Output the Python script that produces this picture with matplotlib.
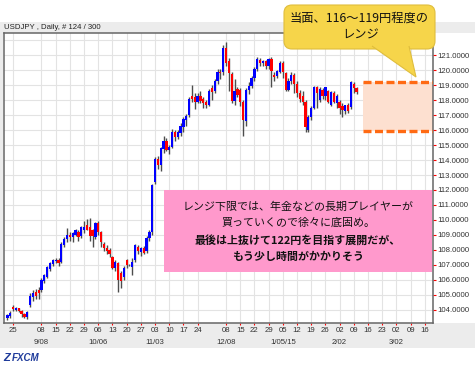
# -*- coding: utf-8 -*-
import numpy as np, pandas as pd
import matplotlib; matplotlib.use('Agg')
import matplotlib.pyplot as plt
import matplotlib.transforms as mtrans
from matplotlib.patches import Rectangle, FancyBboxPatch, Polygon

plt.rcParams.update({'font.family': ['Liberation Sans', 'Noto Sans CJK JP'], 'font.size': 5.6})
JP = ['Noto Sans CJK JP', 'DejaVu Sans']
W, H = 475, 367
BLUE = '#0000ff'; RED = '#ff0000'; WICK = '#4d4d4d'; GRID = '#e3e3e3'

# ---- USDJPY daily candles, first bar 2014-08-21 ----
first_day = '2014-08-21'
opens = [103.45, 103.6, 104.2, 104.0, 104.1, 103.9, 103.75, 103.55, 104.3, 104.85,
         105.2, 105.3, 105.3, 105.95, 106.2, 106.75, 107.05, 107.25, 107.35, 107.2,
         108.35, 108.7, 109.0, 108.85, 109.0, 109.2, 108.9, 109.3, 109.65, 109.55,
         109.3, 108.85, 109.8, 109.2, 108.4, 108.1, 108.0, 107.55, 106.8, 107.1,
         106.45, 106.2, 107.3, 107.0, 106.85, 107.3, 108.2, 107.85, 108.1, 107.9,
         108.8, 109.2, 112.5, 114.1, 113.65, 114.75, 115.3, 114.7, 114.9, 115.85,
         115.55, 115.8, 116.2, 116.7, 117.0, 118.3, 118.2, 117.9, 118.3, 118.1,
         117.9, 117.7, 118.8, 118.6, 119.3, 119.9, 119.85, 121.5, 120.6, 119.75,
         117.95, 118.75, 118.65, 117.9, 116.6, 118.65, 118.95, 119.45, 120.1, 120.7,
         120.45, 120.6, 120.25, 120.75, 119.7, 119.6, 119.9, 120.5, 119.8, 118.7,
         119.3, 119.7, 119.1, 118.5, 118.3, 117.9, 116.0, 116.9, 117.5, 118.9,
         118.0, 118.7, 118.3, 118.6, 117.7, 118.45, 117.8, 117.9, 117.6, 117.3,
         117.65, 117.55, 119.1, 118.8]
highs = [103.75, 103.9, 104.3, 104.2, 104.15, 104.0, 103.8, 103.9, 105.1, 105.3,
         105.4, 105.5, 106.1, 106.4, 106.9, 107.2, 107.4, 107.45, 107.45, 108.5,
         108.85, 109.45, 109.2, 109.2, 109.4, 109.3, 109.6, 109.9, 110.05, 110.1,
         109.4, 109.85, 109.9, 109.25, 108.5, 108.3, 108.1, 107.6, 107.3, 107.2,
         106.6, 106.9, 107.4, 107.05, 107.45, 108.4, 108.35, 108.2, 108.25, 108.9,
         109.3, 112.4, 114.2, 114.3, 114.9, 115.6, 115.5, 115.0, 116.1, 116.0,
         116.0, 116.45, 116.9, 117.1, 118.2, 119.0, 118.5, 118.45, 118.6, 118.2,
         118.0, 118.75, 119.0, 119.4, 120.05, 120.1, 121.7, 121.85, 120.8, 119.9,
         119.4, 118.9, 118.8, 118.0, 118.8, 119.2, 119.6, 120.2, 120.85, 120.8,
         120.7, 120.7, 120.8, 120.85, 119.9, 120.0, 120.6, 120.6, 119.9, 119.5,
         119.85, 119.8, 119.3, 118.7, 118.6, 118.0, 117.0, 117.6, 118.95, 118.95,
         118.85, 118.8, 118.9, 118.7, 118.6, 118.6, 118.4, 118.0, 117.8, 117.7,
         117.8, 119.25, 119.2, 118.85]
lows = [103.35, 103.45, 103.95, 103.9, 103.85, 103.55, 103.45, 103.4, 104.2, 104.6,
        104.7, 104.7, 105.2, 105.8, 106.1, 106.6, 106.95, 107.1, 106.9, 107.1,
        108.2, 108.5, 108.6, 108.5, 108.9, 108.6, 108.8, 109.1, 109.3, 108.6,
        108.2, 108.7, 109.0, 108.2, 107.9, 107.7, 107.5, 106.75, 106.6, 105.2,
        105.45, 106.0, 106.8, 106.9, 106.35, 107.2, 107.7, 107.6, 107.7, 107.8,
        108.6, 109.0, 112.4, 113.4, 113.3, 114.5, 114.6, 114.4, 114.8, 115.3,
        115.4, 115.6, 115.9, 116.3, 116.9, 117.9, 117.4, 117.8, 117.8, 117.5,
        117.5, 117.6, 118.0, 118.5, 119.1, 119.4, 119.7, 120.3, 118.6, 117.8,
        117.7, 118.2, 117.6, 115.6, 116.3, 118.4, 118.8, 119.3, 119.95, 120.3,
        120.3, 120.1, 120.1, 118.9, 119.3, 119.5, 119.8, 119.5, 118.6, 118.6,
        119.1, 118.5, 118.2, 117.9, 117.7, 115.85, 115.9, 116.7, 117.4, 117.45,
        117.9, 118.1, 118.0, 117.8, 117.6, 117.8, 117.5, 117.1, 116.9, 117.1,
        117.15, 117.4, 118.5, 118.4]
closes = [103.65, 103.8, 104.05, 104.1, 103.9, 103.75, 103.55, 103.85, 104.95, 105.15,
          104.95, 105.1, 106.0, 106.3, 106.85, 107.1, 107.3, 107.35, 107.15, 108.4,
          108.7, 109.0, 108.85, 109.1, 109.3, 108.85, 109.5, 109.55, 109.35, 108.9,
          108.9, 109.8, 109.2, 108.55, 108.1, 107.95, 107.7, 106.8, 107.2, 106.0,
          105.95, 106.8, 107.0, 106.97, 107.2, 108.3, 107.9, 108.1, 107.8, 108.8,
          109.2, 112.3, 114.1, 113.65, 114.8, 115.3, 114.7, 114.9, 115.9, 115.55,
          115.85, 116.3, 116.75, 116.95, 118.1, 118.1, 117.9, 118.3, 117.95, 117.8,
          117.65, 118.6, 118.55, 119.3, 119.9, 119.8, 121.45, 120.5, 119.8, 117.95,
          118.6, 118.35, 117.9, 116.7, 118.65, 118.95, 119.45, 120.05, 120.75, 120.45,
          120.6, 120.25, 120.75, 119.95, 119.55, 119.95, 120.5, 119.9, 118.7, 119.3,
          119.7, 119.1, 118.5, 118.1, 117.9, 116.2, 116.9, 117.5, 118.85, 118.5,
          118.75, 118.3, 118.85, 117.85, 118.55, 117.9, 118.3, 117.45, 117.35, 117.65,
          117.25, 119.2, 118.8, 118.55]

# x axis: weekly ticks (Mondays), month labels
tick_days = ['2014-08-25', '2014-09-08', '2014-09-15', '2014-09-22', '2014-09-29', '2014-10-06',
             '2014-10-13', '2014-10-20', '2014-10-27', '2014-11-03', '2014-11-10', '2014-11-17',
             '2014-11-24', '2014-12-08', '2014-12-15', '2014-12-22', '2014-12-29', '2015-01-05',
             '2015-01-12', '2015-01-19', '2015-01-26', '2015-02-02', '2015-02-09', '2015-02-16',
             '2015-02-23', '2015-03-02', '2015-03-09', '2015-03-16']
month_days = ['2014-09-08', '2014-10-06', '2014-11-03', '2014-12-08', '2015-01-05', '2015-02-02', '2015-03-02']
month_labels = ['9/08', '10/06', '11/03', '12/08', '1/05/15', '2/02', '3/02']
y_ticks = list(range(104, 122))
range_lo, range_hi = 115.95, 119.2   # 116-119 range band
range_start = '2015-02-12'

o, h, l, c = map(np.array, (opens, highs, lows, closes))
days = pd.bdate_range(first_day, periods=len(closes)).values.astype('datetime64[D]')
ref = np.datetime64('2014-08-25')
pos = np.busday_count(ref, days)
tpos = np.busday_count(ref, np.array(tick_days, dtype='datetime64[D]'))
mpos = np.busday_count(ref, np.array(month_days, dtype='datetime64[D]'))
rpos = np.busday_count(ref, np.datetime64(range_start)) + 0.3

def fx(px): return px / W
def fy(py): return 1 - py / H

fig = plt.figure(figsize=(W/100, H/100), dpi=100, facecolor='white')

# background bands
bg = fig.add_axes([0, 0, 1, 1], zorder=0); bg.set_xlim(0, W); bg.set_ylim(H, 0); bg.axis('off')
for r in [(0, 22, W, 11), (0, 323, W, 25), (0, 22, 3, 326)]:
    bg.add_patch(Rectangle(r[:2], r[2], r[3], facecolor='#ececec', edgecolor='none'))
bg.text(4, 27.5, 'USDJPY , Daily, # 124 / 300', fontsize=5.6, color='#222', va='center', ha='left')
bg.text(3, 358, 'Z', fontsize=8, color='#1f3b9b', weight='bold', style='italic', va='center')
bg.text(12, 358, 'FXCM', fontsize=7, color='#1f3b9b', weight='bold', style='italic', va='center')

# main chart
ax = fig.add_axes([fx(4), fy(323), fx(433)-fx(4), fy(33)-fy(323)], zorder=1)
xmin, xmax = -3.2, 147.9
ax.set_xlim(xmin, xmax); ax.set_ylim(103.13, 122.47)
ax.set_facecolor('white')
ax.set_axisbelow(True)

ax.add_patch(Rectangle((rpos, range_lo), xmax - rpos, range_hi - range_lo,
                       facecolor='#fde0d0', edgecolor='none', zorder=1.5))
ax.hlines([range_hi, range_lo], rpos, xmax, colors='#ff6a13', lw=2.4,
          linestyles=(0, (2.4, 1.05)), zorder=4)

up = c >= o
ax.vlines(pos, l, h, color=WICK, lw=1.0, zorder=2)
ax.bar(pos, np.clip(np.abs(c - o), 0.05, None), bottom=np.minimum(o, c), width=0.8,
       color=np.where(up, BLUE, RED), linewidth=0, zorder=3)

ax.set_yticks(y_ticks)
ax.set_yticklabels([f'{v:.4f}' for v in y_ticks])
ax.axhline(122, color=GRID, lw=0.8, zorder=0)
ax.yaxis.tick_right()
ax.tick_params(axis='y', direction='out', length=2.2, width=0.8, color='red', pad=0.8,
               labelsize=5.6, labelcolor='#333')
ax.set_xticks(tpos)
ax.set_xticklabels([d[-2:] for d in tick_days])
ax.tick_params(axis='x', direction='out', length=1.6, width=0.8, color='red', pad=1.6,
               labelsize=5.6, labelcolor='#333')
ax.grid(True, color=GRID, lw=0.8)
for s in ax.spines.values():
    s.set_color('#666'); s.set_linewidth(1.1)

tr = mtrans.blended_transform_factory(ax.transData, ax.transAxes)
for p, t in zip(mpos, month_labels):
    ax.text(p, -20/290, t, transform=tr, ha='center', va='center', fontsize=5.6, color='#333')

# annotations
ov = fig.add_axes([0, 0, 1, 1], zorder=5); ov.set_xlim(0, W); ov.set_ylim(H, 0); ov.axis('off')
ov.patch.set_alpha(0)
ov.add_patch(Rectangle((164, 190), 268, 82, facecolor='#ff99cc', edgecolor='none'))
pink_lines = ['レンジ下限では、年金などの長期プレイヤーが', '買っていくので徐々に底固め。',
              '最後は上抜けて122円を目指す展開だが、', 'もう少し時間がかかりそう']
for i, (t, yy) in enumerate(zip(pink_lines, [207, 223, 240, 257])):
    ov.text(298, yy, t, family=JP, fontsize=7.9, ha='center', va='center', color='#111',
            weight='bold' if i >= 2 else 'normal')

YEL = '#f6d54a'
ov.add_patch(FancyBboxPatch((288, 9), 143, 36, boxstyle='round,pad=4,rounding_size=8',
                            facecolor=YEL, edgecolor='#dfbd3c', lw=0.8))
ov.add_patch(Polygon([(372, 46), (416, 77), (409, 46)], closed=False,
                     facecolor=YEL, edgecolor='#dfbd3c', lw=0.8))
ov.text(359, 18.5, '当面、116〜119円程度の', family=JP, fontsize=8.8, ha='center', va='center', color='#111')
ov.text(361, 35, 'レンジ', family=JP, fontsize=8.8, ha='center', va='center', color='#111')

fig.savefig('out.png', dpi=100, facecolor='white')
